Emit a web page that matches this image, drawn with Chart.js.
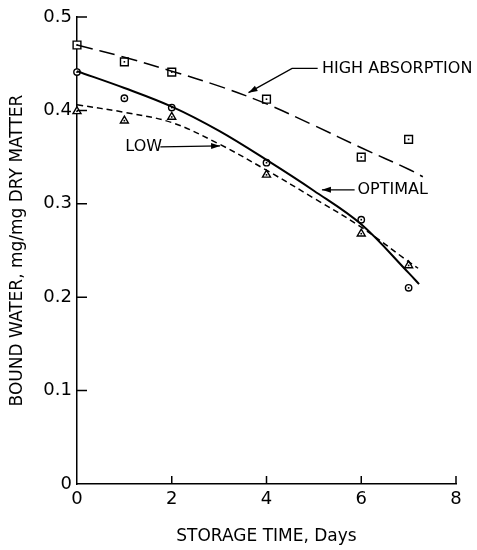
<!DOCTYPE html>
<html>
<head>
<meta charset="utf-8">
<script src="https://cdn.jsdelivr.net/npm/chart.js@4"></script>
<style>
  body { margin: 0; background: #fff; }
  #wrap { width: 477px; height: 550px; }
</style>
</head>
<body>
<div id="wrap"><canvas id="chart" width="477" height="550"></canvas></div>
<script>
// measured points (days of storage)
const days = [0, 1, 2, 4, 6, 7];
const highValues = [0.470, 0.452, 0.441, 0.412, 0.350, 0.369];
const optimalValues = [0.441, 0.413, 0.403, 0.344, 0.283, 0.210];
const lowValues = [0.399, 0.389, 0.393, 0.331, 0.268, 0.234];

// fitted curves
const highCurveDays = [0, 1, 2, 3, 4, 5, 6, 7, 7.3];
const highCurve = [0.470, 0.457, 0.442, 0.426, 0.407, 0.384, 0.360, 0.337, 0.329];
const optimalCurveDays = [0, 1, 2, 3, 4, 5, 6, 7, 7.22];
const optimalCurve = [0.442, 0.424, 0.404, 0.378, 0.347, 0.314, 0.278, 0.226, 0.214];
const lowCurveDays = [0, 1, 2, 3, 4, 5, 6, 7, 7.2];
const lowCurve = [0.406, 0.398, 0.387, 0.364, 0.336, 0.306, 0.275, 0.238, 0.231];

const curveLabels = ["HIGH ABSORPTION", "OPTIMAL", "LOW"];
const xTitle = "STORAGE TIME, Days";
const yTitle = "BOUND WATER, mg/mg DRY MATTER";

const FONT = "'DejaVu Sans', sans-serif";

function pts(xs, ys) {
    return xs.map((x, i) => ({ x: x, y: ys[i] }));
}

function curve(xs, ys, dash, width) {
    return {
        type: "line",
        data: pts(xs, ys),
        borderColor: "#000",
        borderWidth: width,
        borderDash: dash,
        pointRadius: 0,
        tension: 0.35,
        fill: false
    };
}

function marks(ys, style, r) {
    return {
        type: "scatter",
        data: pts(days, ys),
        pointStyle: style,
        pointRadius: r,
        borderColor: "#000",
        borderWidth: 1.4,
        backgroundColor: "#fff",
        clip: false,
        dotted: true
    };
}

// inward ticks, centre dots and the labels with arrows
const extras = {
    id: "extras",
    afterDatasetsDraw(chart) {
        const ctx = chart.ctx;
        const xs = chart.scales.x, ys = chart.scales.y;
        const a = chart.chartArea;
        ctx.save();
        ctx.strokeStyle = "#000";
        ctx.fillStyle = "#000";
        ctx.lineWidth = 1.5;
        ctx.beginPath();
        ys.ticks.forEach(t => {
            if (t.value === 0) return;
            const py = ys.getPixelForValue(t.value);
            ctx.moveTo(a.left, py);
            ctx.lineTo(a.left + 10, py);
        });
        xs.ticks.forEach(t => {
            if (t.value === 0) return;
            const px = xs.getPixelForValue(t.value);
            ctx.moveTo(px, a.bottom);
            ctx.lineTo(px, a.bottom - 8);
        });
        ctx.stroke();

        // small dot inside each marker
        chart.data.datasets.forEach((ds, i) => {
            if (!ds.dotted) return;
            chart.getDatasetMeta(i).data.forEach(el => {
                ctx.fillRect(el.x - 0.8, el.y - 0.8, 1.6, 1.6);
            });
        });

        const X = v => xs.getPixelForValue(v);
        const Y = v => ys.getPixelForValue(v);
        ctx.lineWidth = 1.3;
        function arrow(pathPts) {
            ctx.beginPath();
            ctx.moveTo(X(pathPts[0][0]), Y(pathPts[0][1]));
            for (let k = 1; k < pathPts.length; k++) ctx.lineTo(X(pathPts[k][0]), Y(pathPts[k][1]));
            ctx.stroke();
            const n = pathPts.length;
            const ex = X(pathPts[n - 1][0]), ey = Y(pathPts[n - 1][1]);
            const sx = X(pathPts[n - 2][0]), sy = Y(pathPts[n - 2][1]);
            const ang = Math.atan2(ey - sy, ex - sx);
            ctx.beginPath();
            ctx.moveTo(ex, ey);
            ctx.lineTo(ex - 9 * Math.cos(ang) + 3 * Math.sin(ang), ey - 9 * Math.sin(ang) - 3 * Math.cos(ang));
            ctx.lineTo(ex - 9 * Math.cos(ang) - 3 * Math.sin(ang), ey - 9 * Math.sin(ang) + 3 * Math.cos(ang));
            ctx.closePath();
            ctx.fill();
        }
        ctx.font = "16px " + FONT;
        ctx.textBaseline = "middle";
        ctx.textAlign = "left";
        ctx.fillText(curveLabels[0], X(5.17), Y(0.445));
        arrow([[5.08, 0.445], [4.54, 0.445], [3.62, 0.419]]);
        ctx.fillText(curveLabels[1], X(5.92), Y(0.315));
        arrow([[5.86, 0.315], [5.17, 0.315]]);
        ctx.fillText(curveLabels[2], X(1.02), Y(0.361));
        arrow([[1.76, 0.361], [3.02, 0.362]]);
        ctx.restore();
    }
};

new Chart(document.getElementById("chart"), {
    data: {
        datasets: [
            curve(highCurveDays, highCurve, [16, 7], 1.5),
            curve(optimalCurveDays, optimalCurve, [], 2),
            curve(lowCurveDays, lowCurve, [6, 4], 1.5),
            marks(highValues, "rect", 5.5),
            marks(optimalValues, "circle", 3.2),
            marks(lowValues, "triangle", 4.6)
        ]
    },
    options: {
        responsive: false,
        animation: false,
        layout: { padding: { top: 17, right: 21, left: 0, bottom: 0 } },
        plugins: { legend: { display: false }, tooltip: { enabled: false } },
        scales: {
            x: {
                type: "linear",
                min: 0, max: 8,
                afterFit: s => { s.height = 66; },
                border: { display: true, color: "#000", width: 1.5 },
                grid: { display: false, drawTicks: false },
                ticks: {
                    stepSize: 2, padding: 5, color: "#000",
                    font: { family: FONT, size: 18 }
                },
                title: {
                    display: true, text: xTitle, color: "#000",
                    font: { family: FONT, size: 17 },
                    padding: { top: 0, bottom: 3 }
                }
            },
            y: {
                type: "linear",
                min: 0, max: 0.5,
                afterFit: s => { s.width = 77; },
                border: { display: true, color: "#000", width: 1.5 },
                grid: { display: false, drawTicks: false },
                ticks: {
                    stepSize: 0.1, padding: 5, color: "#000",
                    font: { family: FONT, size: 18 },
                    callback: v => v === 0 ? "0" : v.toFixed(1)
                },
                title: {
                    display: true, text: yTitle, color: "#000",
                    font: { family: FONT, size: 17 },
                    padding: { top: 7, bottom: 0 }
                }
            }
        }
    },
    plugins: [extras]
});
</script>
</body>
</html>
